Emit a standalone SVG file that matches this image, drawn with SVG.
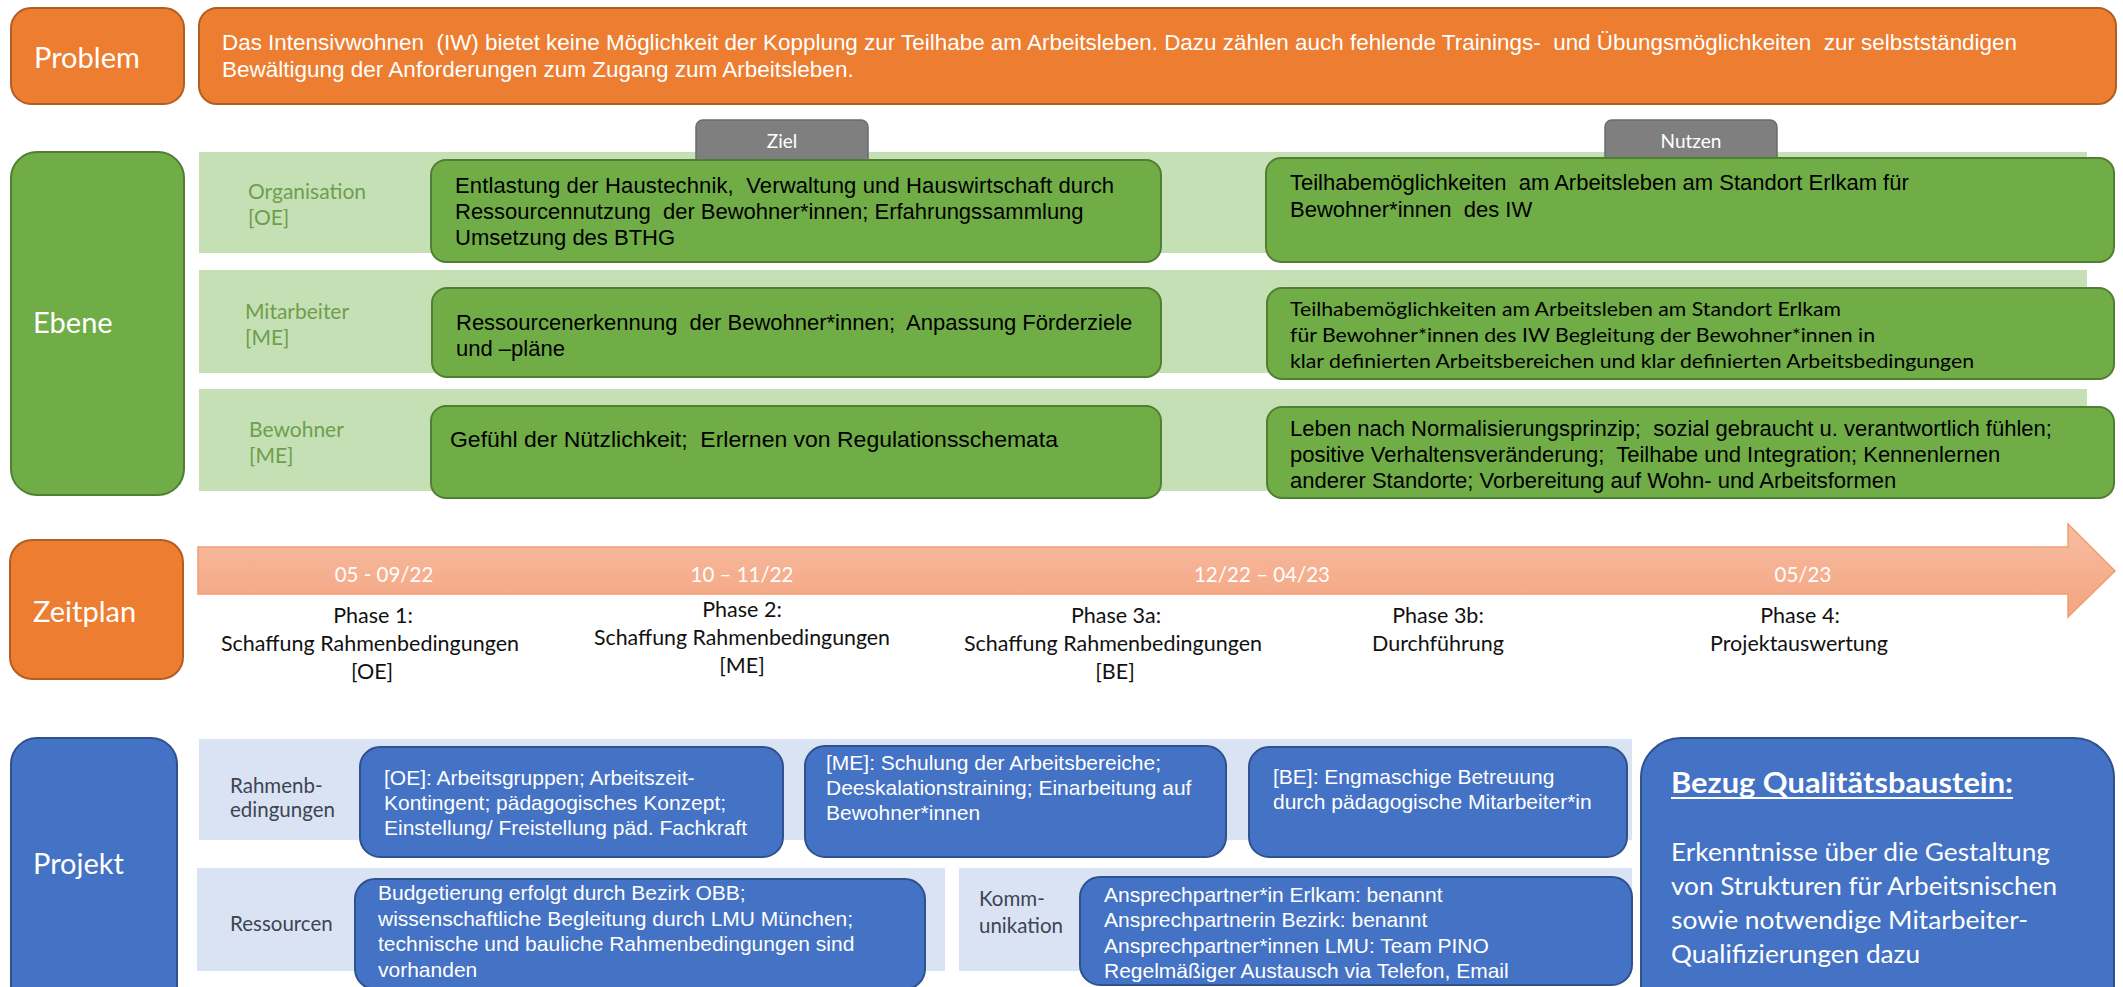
<svg xmlns="http://www.w3.org/2000/svg" width="2123" height="987" viewBox="0 0 2123 987">
<defs>
<linearGradient id="arrowGrad" x1="0" y1="0" x2="0" y2="1">
<stop offset="0" stop-color="#F7BDA2"/>
<stop offset="1" stop-color="#F4A480"/>
</linearGradient>
<style>
.orange{fill:#ED7D31;stroke:#B45D23;stroke-width:2}
.green{fill:#70AD47;stroke:#507E32;stroke-width:2}
.bandg{fill:#C5E0B4}
.bandb{fill:#DAE3F3}
.blue{fill:#4472C4;stroke:#2F528F;stroke-width:2}
.tab{fill:#7F7F7F;stroke:#6B6B6B;stroke-width:1.5}
.big{font-family:Lato,"Open Sans",sans-serif;font-size:29px;fill:#fff}
.tabt{font-family:Lato,"Open Sans",sans-serif;font-size:19px;fill:#fff;text-anchor:middle}
.lvl{font-family:Lato,"Open Sans",sans-serif;font-size:21px;fill:#6E9E4E}
.sub{font-family:Lato,"Open Sans",sans-serif;font-size:20.5px;fill:#3E4452}
.date{font-family:Lato,"Open Sans",sans-serif;font-size:20.5px;fill:#fff;text-anchor:middle}
.ph{font-family:Lato,"Open Sans",sans-serif;font-size:21.5px;fill:#111;text-anchor:middle}
.ar{font-family:"Liberation Sans",Arial,sans-serif;font-size:22px;fill:#000;white-space:pre}
.arw{font-family:"Liberation Sans",Arial,sans-serif;font-size:22.5px;fill:#fff;white-space:pre}
.arb{font-family:"Liberation Sans",Arial,sans-serif;font-size:21px;fill:#fff;white-space:pre}
.calb{font-family:Lato,"Open Sans",sans-serif;font-size:19px;fill:#000}
.bez{font-family:Lato,"Open Sans",sans-serif;font-size:24.5px;fill:#fff}
.bezh{font-family:Lato,"Open Sans",sans-serif;font-size:29px;font-weight:bold;fill:#fff}
</style>
</defs>
<rect x="0" y="0" width="2123" height="987" fill="#fff"/>

<!-- Problem row -->
<g id="problem-label">
<rect class="orange" x="11" y="8" width="173" height="96" rx="20"/>
<text class="big" x="34" y="68">Problem</text>
</g>
<g id="problem-text">
<rect class="orange" x="199" y="8" width="1917" height="96" rx="18"/>
<text class="arw" x="222" y="50" textLength="1795" lengthAdjust="spacingAndGlyphs">Das Intensivwohnen  (IW) bietet keine Möglichkeit der Kopplung zur Teilhabe am Arbeitsleben. Dazu zählen auch fehlende Trainings-  und Übungsmöglichkeiten  zur selbstständigen</text>
<text class="arw" x="222" y="77">Bewältigung der Anforderungen zum Zugang zum Arbeitsleben.</text>
</g>

<!-- Ebene -->
<g id="ebene-label">
<rect class="green" x="11" y="152" width="173" height="343" rx="26"/>
<text class="big" x="33" y="333">Ebene</text>
</g>

<g id="band-organisation">
<rect class="bandg" x="199" y="152" width="1888" height="101"/>
<text class="lvl" x="248" y="199">Organisation</text>
<text class="lvl" x="248" y="225">[OE]</text>
</g>
<g id="band-mitarbeiter">
<rect class="bandg" x="199" y="270" width="1888" height="103"/>
<text class="lvl" x="245" y="319">Mitarbeiter</text>
<text class="lvl" x="245" y="345">[ME]</text>
</g>
<g id="band-bewohner">
<rect class="bandg" x="199" y="389" width="1888" height="102"/>
<text class="lvl" x="249" y="437">Bewohner</text>
<text class="lvl" x="249" y="463">[ME]</text>
</g>

<g id="tab-ziel">
<path class="tab" d="M696,175 V127 a7,7 0 0 1 7,-7 H861 a7,7 0 0 1 7,7 V175 Z"/>
<text class="tabt" x="782" y="148">Ziel</text>
</g>
<g id="tab-nutzen">
<path class="tab" d="M1605,175 V127 a7,7 0 0 1 7,-7 H1770 a7,7 0 0 1 7,7 V175 Z"/>
<text class="tabt" x="1691" y="148">Nutzen</text>
</g>

<g id="ziel-oe">
<rect class="green" x="431" y="160" width="730" height="102" rx="15"/>
<text class="ar" x="455" y="193" textLength="659" lengthAdjust="spacing">Entlastung der Haustechnik,  Verwaltung und Hauswirtschaft durch</text>
<text class="ar" x="455" y="219">Ressourcennutzung  der Bewohner*innen; Erfahrungssammlung</text>
<text class="ar" x="455" y="245">Umsetzung des BTHG</text>
</g>
<g id="nutzen-oe">
<rect class="green" x="1266" y="158" width="848" height="104" rx="15"/>
<text class="ar" x="1290" y="190">Teilhabemöglichkeiten  am Arbeitsleben am Standort Erlkam für</text>
<text class="ar" x="1290" y="217">Bewohner*innen  des IW</text>
</g>

<g id="ziel-me">
<rect class="green" x="432" y="288" width="729" height="89" rx="15"/>
<text class="ar" x="456" y="330">Ressourcenerkennung  der Bewohner*innen;  Anpassung Förderziele</text>
<text class="ar" x="456" y="356">und –pläne</text>
</g>
<g id="nutzen-me">
<rect class="green" x="1267" y="288" width="847" height="91" rx="15"/>
<text class="calb" x="1290" y="316" textLength="551" lengthAdjust="spacingAndGlyphs">Teilhabemöglichkeiten am Arbeitsleben am Standort Erlkam</text>
<text class="calb" x="1290" y="342" textLength="585" lengthAdjust="spacingAndGlyphs">für Bewohner*innen des IW Begleitung der Bewohner*innen in</text>
<text class="calb" x="1290" y="368" textLength="684" lengthAdjust="spacingAndGlyphs">klar definierten Arbeitsbereichen und klar definierten Arbeitsbedingungen</text>
</g>

<g id="ziel-bew">
<rect class="green" x="431" y="406" width="730" height="92" rx="15"/>
<text class="ar" x="450" y="447" textLength="608" lengthAdjust="spacingAndGlyphs">Gefühl der Nützlichkeit;  Erlernen von Regulationsschemata</text>
</g>
<g id="nutzen-bew">
<rect class="green" x="1267" y="407" width="847" height="91" rx="15"/>
<text class="ar" x="1290" y="436">Leben nach Normalisierungsprinzip;  sozial gebraucht u. verantwortlich fühlen;</text>
<text class="ar" x="1290" y="462">positive Verhaltensveränderung;  Teilhabe und Integration; Kennenlernen</text>
<text class="ar" x="1290" y="488">anderer Standorte; Vorbereitung auf Wohn- und Arbeitsformen</text>
</g>

<!-- Zeitplan -->
<g id="zeitplan-label">
<rect class="orange" x="10" y="540" width="173" height="139" rx="22"/>
<text class="big" x="33" y="622">Zeitplan</text>
</g>

<g id="connectors">
<path d="M198,547 H2068 V524 L2115,571 L2068,617 V594 H198 Z" fill="url(#arrowGrad)" stroke="#F19D70" stroke-width="1.5"/>
</g>

<g id="dates">
<text class="date" x="384" y="582">05 - 09/22</text>
<text class="date" x="742" y="582">10 – 11/22</text>
<text class="date" x="1262" y="582">12/22 – 04/23</text>
<text class="date" x="1803" y="582">05/23</text>
</g>

<g id="phase-1">
<text class="ph" x="373" y="623">Phase 1:</text>
<text class="ph" x="370" y="651" textLength="298" lengthAdjust="spacingAndGlyphs">Schaffung Rahmenbedingungen</text>
<text class="ph" x="372" y="679">[OE]</text>
</g>
<g id="phase-2">
<text class="ph" x="742" y="617">Phase 2:</text>
<text class="ph" x="742" y="645" textLength="296" lengthAdjust="spacingAndGlyphs">Schaffung Rahmenbedingungen</text>
<text class="ph" x="742" y="673">[ME]</text>
</g>
<g id="phase-3a">
<text class="ph" x="1116" y="623">Phase 3a:</text>
<text class="ph" x="1113" y="651" textLength="298" lengthAdjust="spacingAndGlyphs">Schaffung Rahmenbedingungen</text>
<text class="ph" x="1115" y="679">[BE]</text>
</g>
<g id="phase-3b">
<text class="ph" x="1438" y="623">Phase 3b:</text>
<text class="ph" x="1438" y="651" textLength="132" lengthAdjust="spacingAndGlyphs">Durchführung</text>
</g>
<g id="phase-4">
<text class="ph" x="1800" y="623">Phase 4:</text>
<text class="ph" x="1799" y="651" textLength="178" lengthAdjust="spacingAndGlyphs">Projektauswertung</text>
</g>

<!-- Projekt -->
<g id="projekt-label">
<rect class="blue" x="11" y="738" width="166" height="280" rx="26"/>
<text class="big" x="33" y="874">Projekt</text>
</g>

<g id="band-rahmen">
<rect class="bandb" x="199" y="739" width="1433" height="101"/>
<text class="sub" x="230" y="793">Rahmenb-</text>
<text class="sub" x="230" y="817">edingungen</text>
</g>
<g id="band-ressourcen">
<rect class="bandb" x="197" y="868" width="748" height="103"/>
<text class="sub" x="230" y="931">Ressourcen</text>
</g>
<g id="band-kommunikation">
<rect class="bandb" x="959" y="868" width="673" height="103"/>
<text class="sub" x="979" y="906">Komm-</text>
<text class="sub" x="979" y="933">unikation</text>
</g>

<g id="rahmen-oe">
<rect class="blue" x="360" y="747" width="423" height="110" rx="20"/>
<text class="arb" x="384" y="785">[OE]: Arbeitsgruppen; Arbeitszeit-</text>
<text class="arb" x="384" y="810">Kontingent; pädagogisches Konzept;</text>
<text class="arb" x="384" y="835">Einstellung/ Freistellung päd. Fachkraft</text>
</g>
<g id="rahmen-me">
<rect class="blue" x="805" y="746" width="421" height="111" rx="20"/>
<text class="arb" x="826" y="770">[ME]: Schulung der Arbeitsbereiche;</text>
<text class="arb" x="826" y="795">Deeskalationstraining; Einarbeitung auf</text>
<text class="arb" x="826" y="820">Bewohner*innen</text>
</g>
<g id="rahmen-be">
<rect class="blue" x="1249" y="747" width="378" height="110" rx="20"/>
<text class="arb" x="1273" y="784">[BE]: Engmaschige Betreuung</text>
<text class="arb" x="1273" y="809">durch pädagogische Mitarbeiter*in</text>
</g>
<g id="ressourcen">
<rect class="blue" x="355" y="879" width="570" height="110" rx="20"/>
<text class="arb" x="378" y="900">Budgetierung erfolgt durch Bezirk OBB;</text>
<text class="arb" x="378" y="926">wissenschaftliche Begleitung durch LMU München;</text>
<text class="arb" x="378" y="951">technische und bauliche Rahmenbedingungen sind</text>
<text class="arb" x="378" y="977">vorhanden</text>
</g>
<g id="kommunikation">
<rect class="blue" x="1080" y="877" width="552" height="108" rx="20"/>
<text class="arb" x="1104" y="902">Ansprechpartner*in Erlkam: benannt</text>
<text class="arb" x="1104" y="927">Ansprechpartnerin Bezirk: benannt</text>
<text class="arb" x="1104" y="953">Ansprechpartner*innen LMU: Team PINO</text>
<text class="arb" x="1104" y="978">Regelmäßiger Austausch via Telefon, Email</text>
</g>
<g id="bezug">
<rect class="blue" x="1641" y="738" width="473" height="290" rx="40"/>
<text class="bezh" x="1671" y="793" textLength="342" lengthAdjust="spacingAndGlyphs">Bezug Qualitätsbaustein:</text>
<rect x="1671" y="797" width="342" height="2" fill="#fff"/>
<text class="bez" x="1671" y="861" textLength="379" lengthAdjust="spacingAndGlyphs">Erkenntnisse über die Gestaltung</text>
<text class="bez" x="1671" y="895" textLength="386" lengthAdjust="spacingAndGlyphs">von Strukturen für Arbeitsnischen</text>
<text class="bez" x="1671" y="929" textLength="357" lengthAdjust="spacingAndGlyphs">sowie notwendige Mitarbeiter-</text>
<text class="bez" x="1671" y="963" textLength="249" lengthAdjust="spacingAndGlyphs">Qualifizierungen dazu</text>
</g>
</svg>
